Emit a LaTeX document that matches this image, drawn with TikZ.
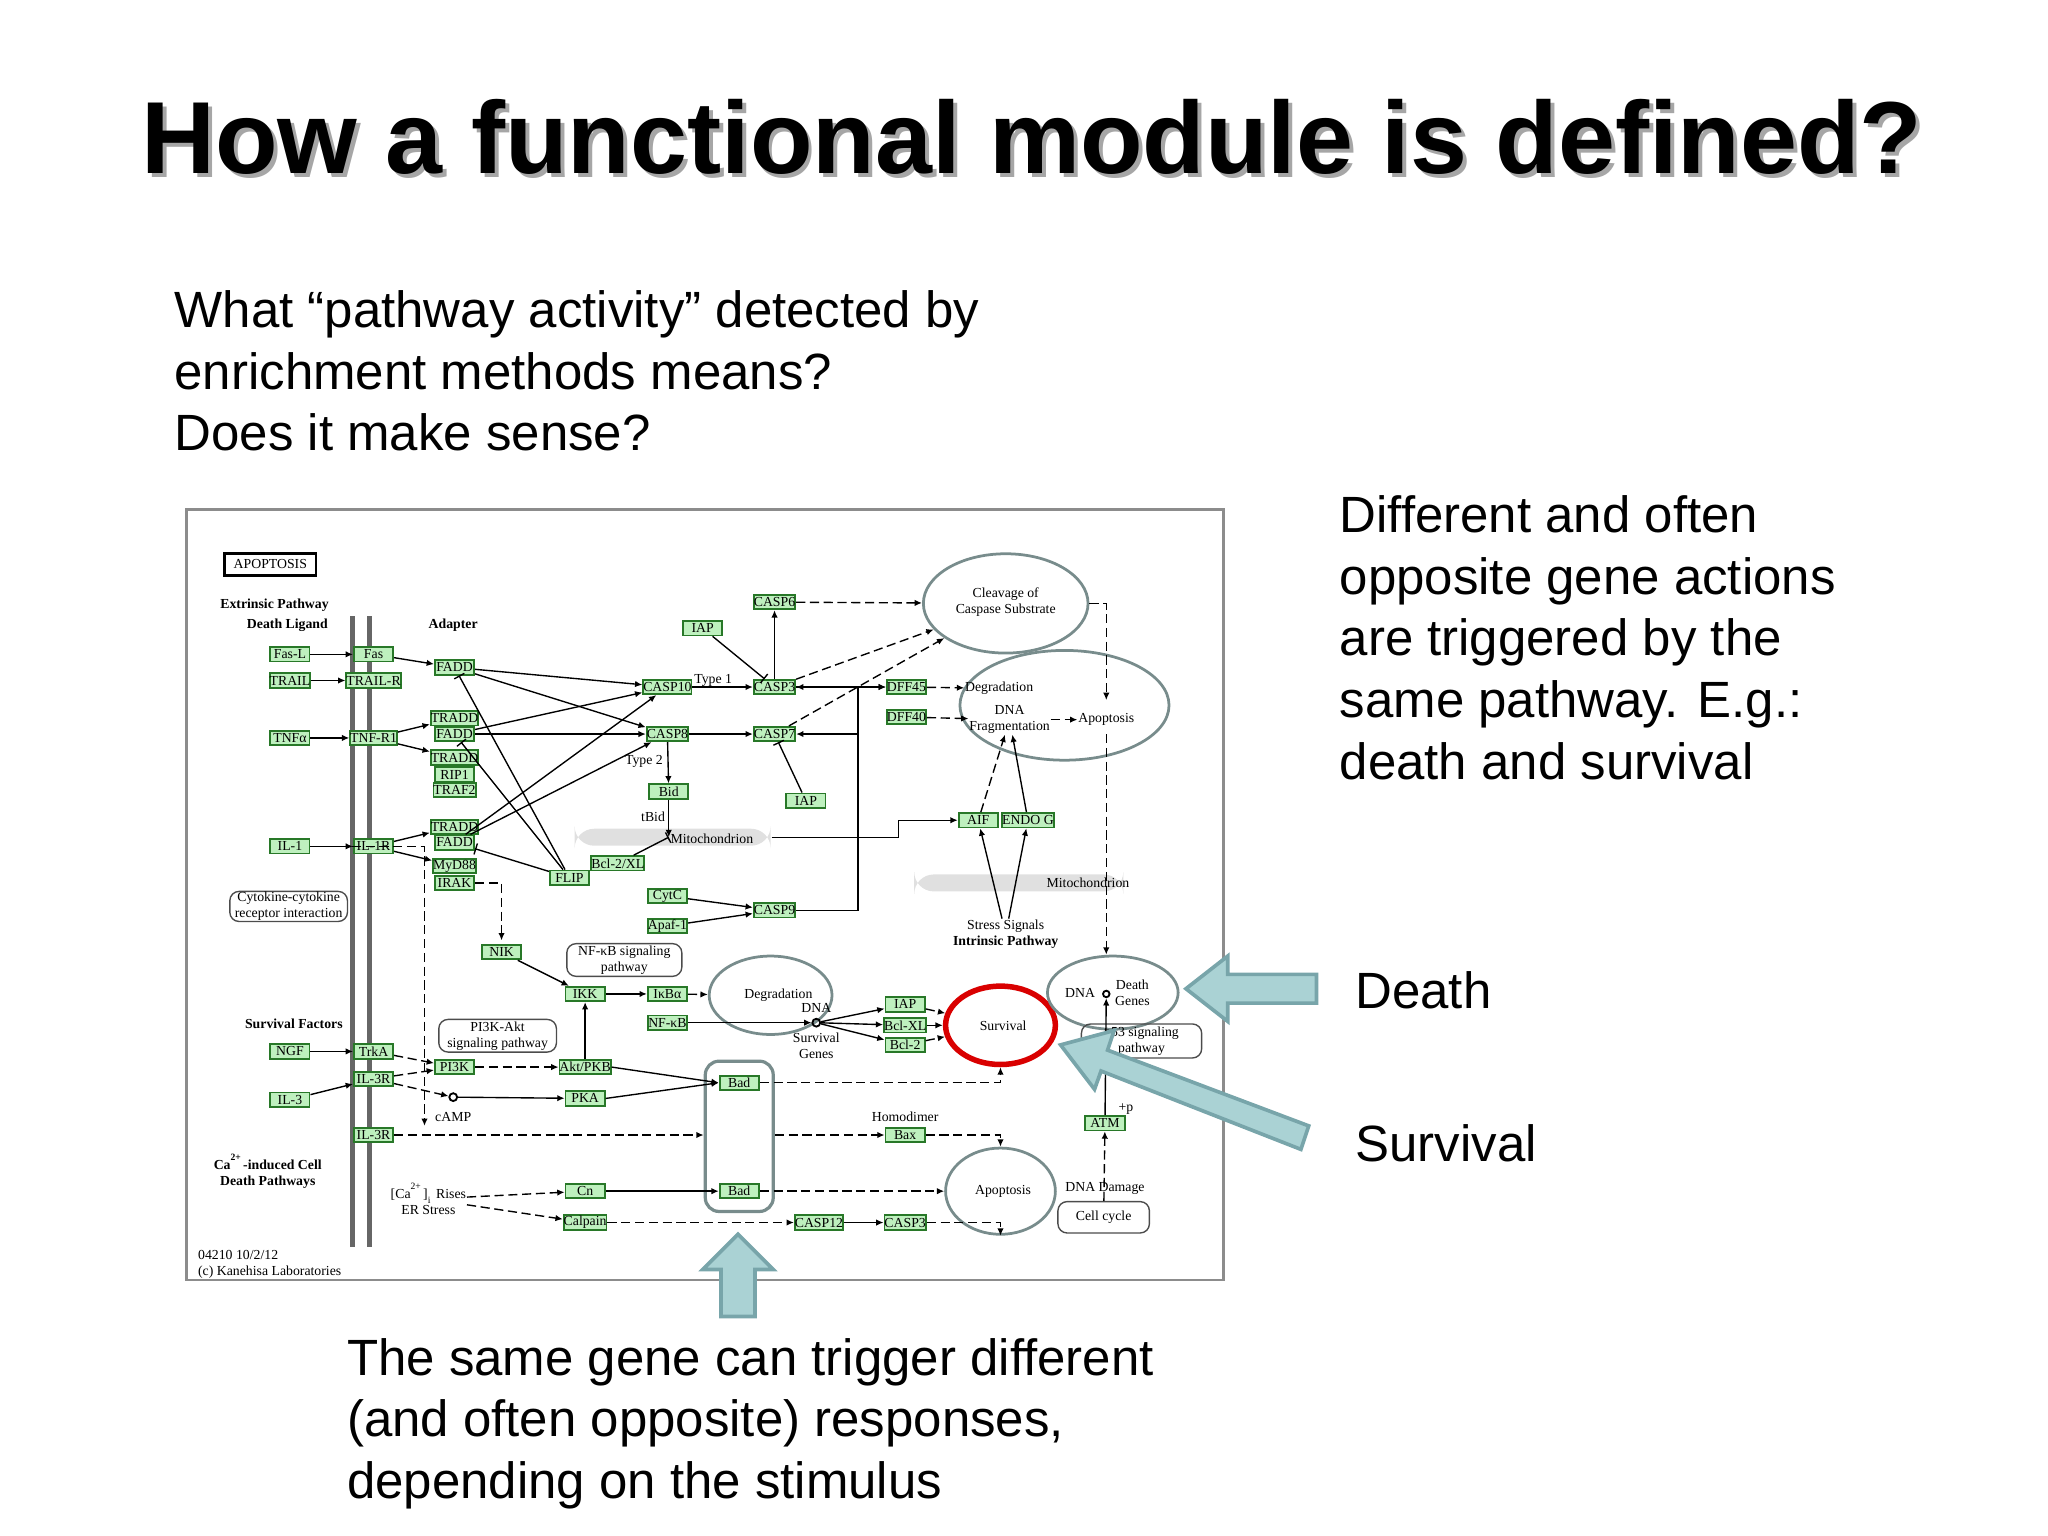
\documentclass[tikz,border=0pt]{standalone}
\usepackage{fontspec}
\setmainfont{Liberation Sans}
\newfontfamily\kegg{Liberation Serif}
\usetikzlibrary{arrows.meta,shapes.geometric,positioning}

\definecolor{genefill}{RGB}{190,240,190}
\definecolor{geneline}{RGB}{40,120,40}
\definecolor{pathline}{RGB}{120,140,140}
\definecolor{blockfill}{RGB}{170,210,212}
\definecolor{blockline}{RGB}{120,165,170}

\tikzset{
  gene/.style={draw=geneline, fill=genefill, font=\kegg\fontsize{3}{3.5}\selectfont,
    inner sep=0pt, minimum width=0.3cm, minimum height=0.11cm},
  lbl/.style={font=\kegg\fontsize{3}{3.5}\selectfont, inner sep=0pt, align=center},
  blbl/.style={lbl, font=\kegg\bfseries\fontsize{3}{3.5}\selectfont},
  proc/.style={ellipse, draw=pathline, line width=0.6pt, inner sep=0pt},
  mapbox/.style={rounded corners=2pt, draw=black!70, line width=0.3pt, lbl},
  mito/.style={fill=black!12, rounded corners=1.5mm, minimum height=0.13cm, inner sep=0pt},
  act/.style={-{Latex[length=1.6pt,width=1.4pt]}, line width=0.3pt},
  dact/.style={act, dashed, dash pattern=on 2pt off 1pt},
  inh/.style={-{Bar[width=2.5pt]}, line width=0.3pt},
  body/.style={font=\fontsize{11.1}{13.4}\selectfont, align=left, inner sep=0pt},
  block/.style={fill=blockfill, draw=blockline, line width=0.8pt}
}

\begin{document}
\begin{tikzpicture}[x=0.01cm,y=-0.01cm]
  \useasboundingbox (0,0) rectangle (1568,1176);

  % title with shadow
  \node[font=\bfseries\fontsize{22.3}{26}\selectfont, text=black!35] at (793,108) {How a functional module is defined?};
  \node[font=\bfseries\fontsize{22.3}{26}\selectfont] (title) at (790,105) {How a functional module is defined?};

  \node[body, anchor=north west] (question) at (133,222)
    {What “pathway activity” detected by\\enrichment methods means?\\Does it make sense?};
  \node[body, anchor=north west] (actions) at (1025,379)
    {Different and often\\opposite gene actions\\are triggered by the\\same pathway. E.g.:\\death and survival};
  \node[body, anchor=west] (deathtxt) at (1037,758) {Death};
  \node[body, anchor=west] (survtxt) at (1037,875) {Survival};
  \node[body, anchor=north west] (stimulus) at (265,1024)
    {The same gene can trigger different\\(and often opposite) responses,\\depending on the stimulus};

  % the pathway map
  \draw[black!45, line width=0.6pt] (143,390) rectangle (937,980);
  \node[draw, line width=0.6pt, minimum width=0.7cm, minimum height=0.17cm, lbl] (apop) at (207,432) {APOPTOSIS};
  \node[blbl, anchor=west] (extr) at (168,463) {Extrinsic Pathway};
  \node[blbl] (ligand) at (220,479) {Death Ligand};
  \node[blbl] (adapter) at (347,479) {Adapter};
  \draw[black!60, line width=1.2pt] (270,472) -- (270,955) (283,472) -- (283,955);

  \node[mito, minimum width=1.5cm] (mito1) at (515,641) {};
  \node[lbl] at (545,642) {Mitochondrion};
  \node[mito, minimum width=1.6cm] (mito2) at (780,676) {};
  \node[lbl] at (833,676) {Mitochondrion};

  % ligands and receptors
  \node[gene] (fasl) at (222,501) {Fas-L};
  \node[gene] (trail) at (222,521) {TRAIL};
  \node[gene] (tnfa) at (222,565) {TNFα};
  \node[gene] (il1) at (222,648) {IL-1};
  \node[gene] (fas) at (286,501) {Fas};
  \node[gene] (trailr) at (286,521) {TRAIL-R};
  \node[gene] (tnfr) at (286,565) {TNF-R1};
  \node[gene] (il1r) at (286,648) {IL-1R};
  % adapters
  \node[gene] (fadda) at (348,511) {FADD};
  \node[gene] (tradda) at (348,550) {TRADD};
  \node[gene] (faddb) at (348,562) {FADD};
  \node[gene] (traddb) at (348,580) {TRADD};
  \node[gene] (rip) at (348,593) {RIP1};
  \node[gene] (traf) at (348,605) {TRAF2};
  \node[gene] (traddc) at (348,633) {TRADD};
  \node[gene] (faddc) at (348,645) {FADD};
  \node[gene] (myd) at (348,663) {MyD88};
  \node[gene] (irak) at (348,676) {IRAK};
  \node[gene] (flip) at (436,672) {FLIP};
  % caspases
  \node[gene] (casp10) at (511,526) {CASP10};
  \node[gene] (casp8) at (511,562) {CASP8};
  \node[gene] (casp3) at (593,526) {CASP3};
  \node[gene] (casp7) at (593,562) {CASP7};
  \node[gene] (casp6) at (593,461) {CASP6};
  \node[gene] (iapa) at (538,481) {IAP};
  \node[gene] (iapb) at (617,613) {IAP};
  \node[gene] (dff45) at (694,526) {DFF45};
  \node[gene] (dff40) at (694,549) {DFF40};
  \node[gene] (bid) at (512,606) {Bid};
  \node[gene] (bcl2xl) at (473,661) {Bcl-2/XL};
  \node[gene] (cytc) at (511,686) {CytC};
  \node[gene] (apaf) at (511,709) {Apaf-1};
  \node[gene] (casp9) at (593,697) {CASP9};
  \node[gene] (aif) at (749,628) {AIF};
  \node[gene] (endog) at (787,628) {ENDO G};
  \node[lbl] (type1) at (546,521) {Type 1};
  \node[lbl] (type2) at (493,583) {Type 2};
  \node[lbl] (tbid) at (500,625) {tBid};
  \coordinate (mitoin) at (512,641);

  \node[proc, minimum width=1.26cm, minimum height=0.76cm] (cleave) at (770,462) {};
  \node[lbl] at (770,461) {Cleavage of\\Caspase Substrate};
  \node[proc, minimum width=1.6cm, minimum height=0.84cm] (apobig) at (815,540) {};
  \node[lbl] (degr) at (765,527) {Degradation};
  \node[lbl] (dnafrag) at (773,551) {DNA\\Fragmentation};
  \node[lbl] (apotxt) at (847,551) {Apoptosis};
  \node[lbl] (stress) at (770,715) {Stress Signals\\\textbf{Intrinsic Pathway}};

  % survival branch
  \node[mapbox, minimum width=0.9cm, minimum height=0.23cm] (cytok) at (221,694) {Cytokine-cytokine\\receptor interaction};
  \node[gene] (nik) at (384,729) {NIK};
  \node[mapbox, minimum width=0.88cm, minimum height=0.25cm] (nfkbpath) at (478,735) {NF-κB signaling\\pathway};
  \node[gene] (ikk) at (448,761) {IKK};
  \node[gene] (ikba) at (511,761) {IκBα};
  \node[gene] (nfkb) at (511,783) {NF-κB};
  \node[proc, minimum width=0.94cm, minimum height=0.6cm] (degr2) at (590,762) {};
  \node[lbl] at (596,762) {Degradation};
  \node[circle, draw, inner sep=0pt, minimum size=0.06cm] (dna) at (625,783) {};
  \node[lbl, above=1pt of dna] {DNA};
  \node[lbl, below=1pt of dna] {Survival\\Genes};
  \node[gene] (iapc) at (693,769) {IAP};
  \node[gene] (bclxl) at (693,785) {Bcl-XL};
  \node[gene] (bcl2) at (693,800) {Bcl-2};
  \node[ellipse, draw=red!85!black, line width=1.2pt, minimum width=0.84cm, minimum height=0.6cm, inner sep=0pt] (surv) at (766,785) {};
  \node[lbl] at (768,785) {Survival};
  \node[proc, minimum width=1.0cm, minimum height=0.56cm] (dgenes) at (852,760) {};
  \node[lbl] at (827,760) {DNA};
  \node[circle, draw, inner sep=0pt, minimum size=0.05cm] (dnab) at (847,761) {};
  \node[lbl] at (867,760) {Death\\Genes};
  \node[mapbox, minimum width=0.92cm, minimum height=0.26cm] (p53) at (874,797) {p53 signaling\\pathway};
  \node[gene] (atm) at (846,860) {ATM};
  \node[lbl] at (862,849) {+p};

  \node[blbl] (survfac) at (225,784) {Survival Factors};
  \node[gene] (ngf) at (222,805) {NGF};
  \node[gene] (il3) at (222,842) {IL-3};
  \node[gene] (trka) at (286,805) {TrkA};
  \node[gene] (il3ra) at (286,826) {IL-3R};
  \node[gene] (il3rb) at (286,869) {IL-3R};
  \node[gene] (pi3k) at (348,817) {PI3K};
  \node[gene] (akt) at (448,817) {Akt/PKB};
  \node[circle, draw, inner sep=0pt, minimum size=0.06cm] (camp) at (347,840) {};
  \node[lbl] at (347,855) {cAMP};
  \node[gene] (pka) at (448,841) {PKA};
  \node[mapbox, minimum width=0.9cm, minimum height=0.25cm] (pi3kpath) at (381,793) {PI3K-Akt\\signaling pathway};
  \node[draw=pathline, line width=0.7pt, rounded corners=3pt, minimum width=0.52cm, minimum height=1.15cm] (badgrp) at (566,870) {};
  \node[gene] (bada) at (566,829) {Bad};
  \node[gene] (badb) at (566,912) {Bad};
  \node[lbl] (homod) at (693,855) {Homodimer};
  \node[gene] (bax) at (693,869) {Bax};
  \node[proc, minimum width=0.84cm, minimum height=0.66cm] (apo2) at (766,912) {};
  \node[lbl] at (768,912) {Apoptosis};
  \node[lbl] (dnadam) at (846,910) {DNA Damage};
  \node[mapbox, minimum width=0.7cm, minimum height=0.24cm] (cellcyc) at (845,932) {Cell cycle};

  \node[blbl] (capath) at (205,897) {Ca\textsuperscript{2+}-induced Cell\\Death Pathways};
  \node[lbl] (carise) at (328,918) {[Ca\textsuperscript{2+}]\textsubscript{i} Rises\\ER Stress};
  \node[gene] (cn) at (448,912) {Cn};
  \node[gene] (calp) at (448,936) {Calpain};
  \node[gene] (casp12) at (627,936) {CASP12};
  \node[gene] (casp3b) at (693,936) {CASP3};
  \node[lbl, anchor=west, align=left] (kegg) at (151,968) {04210 10/2/12\\(c) Kanehisa Laboratories};

  % extrinsic connectors
  \foreach \a/\b in {fasl/fas, trail/trailr, tnfa/tnfr, il1/il1r, fas/fadda, tnfr/tradda, tnfr/traddb,
      il1r/traddc, il1r/myd, fadda/casp10, fadda/casp8, faddb/casp8, faddb/casp10, faddc/casp10,
      faddc/casp8, casp10/casp3, casp8/casp7, casp3/casp6, casp3/dff45, casp8/bid, cytc/casp9,
      apaf/casp9, ngf/trka, il3/il3ra, camp/pka, nik/ikk, ikk/ikba, cn/badb, casp12/casp3b,
      dna/iapc, dna/bclxl, dna/bcl2, atm/dnab, stress/aif, stress/endog}
    \draw[act] (\a) -- (\b);
  \foreach \a/\b in {flip/fadda, flip/faddb, flip/faddc, iapa/casp3, iapb/casp7, bcl2xl/mitoin}
    \draw[inh] (\a) -- (\b);
  \foreach \a/\b in {casp6/cleave, casp3/cleave, casp7/cleave, dff45/degr, dff40/dnafrag,
      dnafrag/apotxt, trka/pi3k, il3ra/pi3k, il3ra/camp, pi3k/akt, ikba/degr2, iapc/surv,
      bclxl/surv, bcl2/surv, carise/cn, carise/calp, calp/casp12, badb/apo2, cellcyc/atm}
    \draw[dact] (\a) -- (\b);
  \draw[act] (bid) -- (mitoin);
  \draw[act] (akt) -- (ikk);
  \draw[act] (nfkb) -- (dna);
  \draw[act] (akt.east) -- (bada.west);
  \draw[act] (pka.east) -- (bada.west);
  \draw[act] (casp9.east) -| (657,545) |- (casp7.east);
  \draw[act] (657,545) |- (casp3.east);
  \draw[act] (casp3.east) -- (dff45.west);
  \draw[act] (mito1.east) -| (688,640) |- (aif.west);
  \draw[dact] (aif) -- (dnafrag);
  \draw[act] (endog) -- (dnafrag);
  \draw[dact] (cleave.east) -| (847,536);
  \draw[dact] (847,562) -- (dgenes.north -| 847,0);
  \draw[dact] (irak.east) -| (384,720);
  \draw[dact] (il1.east) -| (325,862);
  \draw[dact] (il3rb.east) -- (badgrp.west |- il3rb);
  \draw[dact] (bada.east) -| (surv.south);
  \draw[dact] (badgrp.east |- bax) -- (bax.west);
  \draw[dact] (bax.east) -| (apo2.north);
  \draw[dact] (casp3b.east) -| (apo2.south);

  % block arrows
  \draw[block] (1008,746) -- (940,746) -- (940,732) -- (908,757) -- (940,782) -- (940,768)
    -- (1008,768) -- cycle;
  \draw[block] (1002,862) -- (848,804) -- (853,789) -- (812,800) -- (838,834) -- (843,820)
    -- (996,880) -- cycle;
  \draw[block] (552,1008) -- (552,972) -- (538,972) -- (565,945) -- (592,972) -- (578,972)
    -- (578,1008) -- cycle;
\end{tikzpicture}
\end{document}
